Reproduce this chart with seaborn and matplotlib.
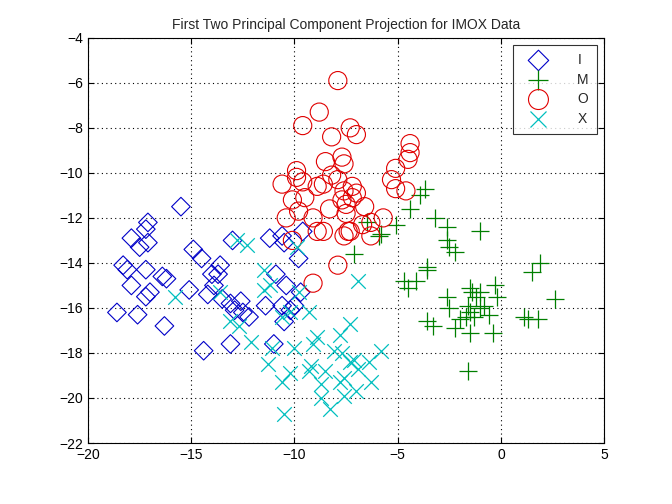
import numpy as np
import pandas as pd
import matplotlib
matplotlib.use("Agg")
import matplotlib.pyplot as plt
import seaborn as sns

sns.set_style("white")
plt.rcParams['font.family'] = ['Liberation Sans', 'DejaVu Sans']

# group I (diamonds)
i_x = [-18.6, -18.3, -18.1, -17.9, -17.9, -17.5, -17.6, -17.2, -17.1, -17.2, -17.0, -17.2, -17.1,
       -16.4, -16.2, -16.3, -15.5, -15.1, -14.9, -14.5, -14.4, -14.2, -14.0, -13.9, -13.7, -13.6,
       -13.5, -13.1, -13.0, -13.1, -12.9, -12.6, -12.5, -12.2, -11.4, -11.0, -10.9, -10.6, -10.5,
       -10.4, -10.6, -10.5, -10.0, -9.8, -9.6, -9.7, -11.2, -10.2]
i_y = [-16.2, -14.1, -14.3, -12.9, -15.0, -13.3, -16.3, -12.5, -12.2, -14.3, -15.3, -15.5, -13.1,
       -14.6, -14.7, -16.8, -11.5, -15.2, -13.4, -13.8, -17.9, -15.4, -14.5, -15.0, -14.5, -14.1,
       -15.6, -15.8, -13.0, -17.6, -16.1, -15.7, -16.2, -16.4, -15.9, -17.6, -14.5, -12.8, -13.1,
       -15.0, -15.9, -16.6, -15.9, -13.8, -12.6, -15.3, -12.9, -16.1]

# group M (plus)
m_x = [-5.8, -3.7, -3.9, -4.4, -3.2, -2.6, -2.6, -2.5, -2.2, -1.0, -3.6, -4.1, -4.7, -4.5, -3.6,
       -5.9, -7.1, -6.5, -5.1, -2.6, -1.6, -1.5, -1.5, -1.4, -1.0, -0.2, -0.8, -0.3, 1.5, 1.9,
       1.1, 1.3, 1.8, 2.6, -2.5, -2.2, -3.3, -3.6, -1.7, -1.3, -1.5, -2.0, -0.6, -0.4, -1.6,
       -1.2, -1.0]
m_y = [-12.7, -10.7, -11.0, -11.6, -12.0, -12.4, -13.0, -13.3, -13.5, -12.6, -14.3, -14.8, -14.8,
       -15.1, -14.2, -12.8, -13.6, -12.2, -12.3, -15.5, -15.9, -16.2, -15.1, -15.3, -16.0, -15.5,
       -15.9, -15.0, -14.4, -14.0, -16.4, -16.5, -16.5, -15.6, -16.0, -16.9, -16.8, -16.6, -16.4,
       -16.4, -17.1, -16.5, -16.3, -17.1, -18.8, -15.5, -15.3]

# group O (circles)
o_x = [-7.9, -8.8, -9.6, -8.2, -7.3, -7.0, -5.1, -5.3, -5.1, -4.4, -4.5, -4.4, -9.6, -8.5, -8.2,
       -7.9, -7.7, -7.6, -7.2, -10.6, -9.9, -9.5, -8.9, -8.3, -7.7, -7.5, -7.5, -7.2, -6.6, -10.1,
       -9.8, -10.4, -9.1, -6.3, -5.7, -4.6, -8.9, -8.6, -7.6, -7.4, -6.7, -6.3, -10.1, -7.9, -9.1,
       -8.6, -7.3, -7.0, -9.9, -7.6]
o_y = [-5.9, -7.3, -7.9, -8.4, -8.0, -8.3, -9.8, -10.3, -10.7, -9.1, -9.4, -8.7, -10.4, -9.5,
       -10.1, -10.3, -9.3, -9.6, -10.6, -10.5, -10.2, -11.1, -10.6, -11.6, -11.2, -11.4, -11.8,
       -11.1, -11.5, -11.2, -11.7, -12.0, -12.0, -12.2, -12.0, -10.8, -12.6, -12.6, -12.8, -12.6,
       -12.3, -12.8, -13.0, -14.1, -14.9, -10.5, -12.6, -10.9, -9.9, -10.8]

# group X (crosses)
x_x = [-15.8, -12.8, -12.3, -13.1, -13.6, -12.7, -11.5, -12.1, -11.2, -10.6, -10.2, -11.3, -11.1,
       -10.2, -10.6, -10.5, -10.0, -9.3, -9.1, -9.3, -8.9, -8.7, -8.5, -8.7, -8.3, -8.1, -7.8,
       -7.7, -7.6, -7.3, -7.1, -7.0, -7.8, -7.6, -6.4, -6.3, -5.8, -6.9, -9.8, -9.9, -11.5, -9.2,
       -6.9, -7.3]
x_y = [-15.5, -13.0, -13.2, -16.6, -15.3, -16.8, -15.2, -17.5, -15.0, -16.4, -16.2, -18.5, -17.8,
       -18.9, -19.3, -20.7, -17.8, -16.2, -17.6, -18.8, -17.3, -19.4, -18.8, -20.0, -20.5, -17.9,
       -17.2, -18.0, -19.1, -18.4, -18.3, -19.7, -19.3, -19.9, -18.4, -19.3, -17.9, -14.8, -15.3,
       -13.3, -14.3, -18.6, -18.7, -16.7]

groups = [
    ('I', i_x, i_y, 'D', '#0000C8', 90),
    ('M', m_x, m_y, '+', '#007F00', 160),
    ('O', o_x, o_y, 'o', '#E00000', 170),
    ('X', x_x, x_y, 'x', '#00BFBF', 110),
]

fig = plt.figure(figsize=(6.72, 5.04), dpi=100)
ax = fig.add_axes([0.131, 0.121, 0.768, 0.804])

for name, gx, gy, mk, c, s in groups:
    df = pd.DataFrame({'x': gx, 'y': gy})
    if mk in ('D', 'o'):
        sns.scatterplot(data=df, x='x', y='y', marker=mk, s=s, ax=ax, label=name,
                        facecolor='none', edgecolor=c, linewidth=0.8)
    else:
        sns.scatterplot(data=df, x='x', y='y', marker=mk, s=s, ax=ax, label=name,
                        color=c, linewidth=0.9)

ax.set_xlim(-20, 5)
ax.set_ylim(-22, -4)
ax.set_xticks(np.arange(-20, 6, 5))
ax.set_yticks(np.arange(-22, -3, 2))
ax.grid(True, color='black', linestyle=(0, (1, 3)), linewidth=0.8)
for sp in ax.spines.values():
    sp.set_color('black')
    sp.set_linewidth(0.8)
ax.tick_params(direction='in', length=4, labelsize=10, colors='black', top=True, right=True,
               bottom=True, left=True)
ax.set_xlabel('')
ax.set_ylabel('')
ax.set_title('First Two Principal Component Projection for IMOX Data', fontsize=10)

leg = ax.legend(loc='upper right', fontsize=10, frameon=True, fancybox=False,
                edgecolor='black', borderaxespad=0.5, borderpad=0.6, handletextpad=1.6,
                handlelength=2.4, labelspacing=0.4, markerscale=1.1)
leg.get_frame().set_linewidth(0.8)

fig.savefig('out.png', dpi=100)
